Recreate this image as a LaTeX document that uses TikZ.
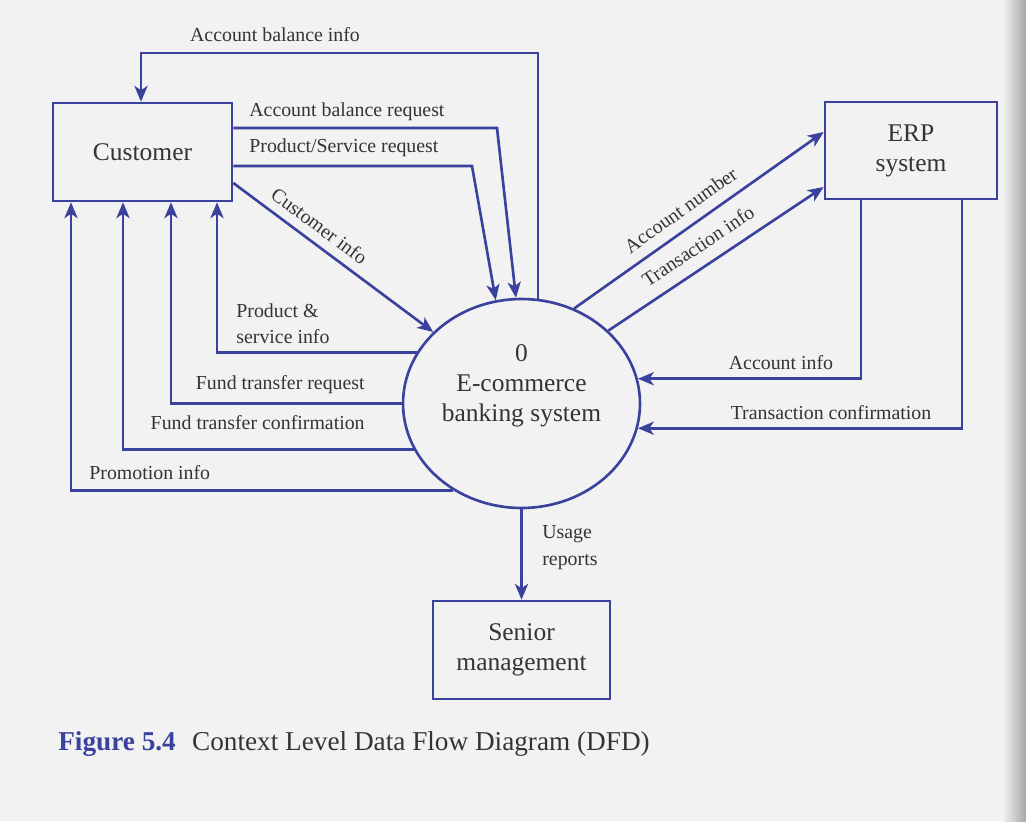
\documentclass[tikz,border=0pt]{standalone}
\usepackage{fontspec}
\setmainfont{Liberation Serif}
\usetikzlibrary{arrows.meta,shapes.geometric}
\definecolor{dfdblue}{RGB}{58,66,158}
\definecolor{inkgray}{RGB}{52,52,52}
\definecolor{paper}{RGB}{242,242,242}

\begin{document}
\begin{tikzpicture}[
  x=0.02cm, y=-0.02cm,
  every node/.style={font=\fontsize{11.3}{15}\selectfont, text=inkgray},
  entity/.style={draw=dfdblue, line width=1.5pt, minimum height=1.96cm, align=center, font=\fontsize{14.5}{17}\selectfont},
  process/.style={ellipse, draw=dfdblue, line width=1.5pt, minimum width=4.74cm, minimum height=4.18cm, inner sep=0pt},
  proctext/.style={align=center, font=\fontsize{14.5}{17}\selectfont, text=inkgray},
  lbl/.style={inner sep=0pt, align=left},
  flow/.style={-{Stealth[length=9pt,width=7.5pt,inset=2.5pt]}, line width=1.5pt, draw=dfdblue}
]
\fill[paper] (0,0) rectangle (1026,821);
\shade[left color=paper, right color=gray!70] (1003,0) rectangle (1026,821);
\useasboundingbox (0,0) rectangle (1026,821);

\node[entity, minimum width=3.58cm] (cust) at (142.5,152) {Customer};
\node[entity, minimum width=3.44cm, minimum height=1.94cm] (erp) at (911,150.5) {ERP\\system};
\node[entity, minimum width=3.54cm] (mgmt) at (521.5,650) {Senior\\management};
\node[process, label={[proctext, yshift=0.35cm]center:0\\E-commerce\\banking system}] (sys) at (521.5,403.5) {};

\draw[flow] (sys.81.5) |- (141,53) -- (cust.north -| 141,0);
\node[lbl] (l-abi) at (275,35) {Account balance info};
\draw[flow] (cust.east |- 0,128) -- (497,128) -- (sys.93.6);
\node[lbl, anchor=west] (l-abr) at (249,112) {Account balance request};
\draw[flow] (cust.east |- 0,166) -- (472,166) -- (sys.104.6);
\node[lbl, anchor=west] (l-psr) at (249,148) {Product/Service request};
\draw[flow] (cust.east |- 0,183) -- (sys.141.4) node[lbl, sloped, above=5pt, pos=0.38] (l-ci) {Customer info};

\draw[flow] (sys.61.6) -- (erp.west |- 0,132) node[lbl, sloped, above=6pt, pos=0.47] (l-an) {Account number};
\draw[flow] (sys.40) -- (erp.west |- 0,187) node[lbl, sloped, above=7pt, pos=0.47] (l-ti) {Transaction info};
\draw[flow] (erp.south -| 861,0) |- (sys.12.5);
\node[lbl] (l-ai) at (781,363) {Account info};
\draw[flow] (erp.south -| 962,0) |- (sys.-12.5);
\node[lbl] (l-tc) at (831,413) {Transaction confirmation};

\draw[flow] (sys.154) -| (cust.south -| 217,0);
\node[lbl, anchor=west] (l-psi) at (236,323.5) {Product \&\\service info};
\draw[flow] (sys.west) -| (cust.south -| 171,0);
\node[lbl, anchor=east] (l-ftr) at (365,385) {Fund transfer request};
\draw[flow] (sys.-157.5) -| (cust.south -| 123,0);
\node[lbl, anchor=east] (l-ftc) at (365,423) {Fund transfer confirmation};
\draw[flow] (sys.232.4) -| (cust.south -| 71,0);
\node[lbl, anchor=west] (l-pi) at (89,473) {Promotion info};

\draw[flow] (sys.south) -- (mgmt.north);
\node[lbl, anchor=west] (l-ur) at (542,547.5) {Usage\\reports};

\node[anchor=west, inner sep=0pt, font=\fontsize{15.5}{18}\selectfont] (cap) at (58,744) {\textcolor{dfdblue}{\textbf{Figure 5.4}}\hspace{0.6em}Context Level Data Flow Diagram (DFD)};
\end{tikzpicture}
\end{document}
